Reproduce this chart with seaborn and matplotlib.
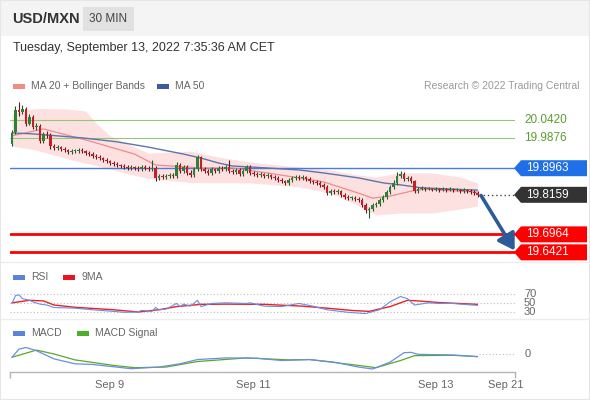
import numpy as np
import pandas as pd
import matplotlib
matplotlib.use("Agg")
import matplotlib.pyplot as plt
import matplotlib.transforms as mtransforms
from matplotlib.patches import Polygon, Rectangle
from matplotlib.lines import Line2D
import seaborn as sns

# ---------------- data (30-min candles) ----------------
opens = [19.970, 20.006, 20.072, 20.066, 20.075, 20.030, 20.051, 20.021, 20.024, 19.979,
         20.000, 19.997, 19.963, 19.957, 19.960, 19.954, 19.951, 19.945, 19.948, 19.948,
         19.951, 19.948, 19.942, 19.939, 19.933, 19.930, 19.927, 19.921, 19.918, 19.912,
         19.909, 19.906, 19.903, 19.900, 19.897, 19.900, 19.897, 19.894, 19.900, 19.897,
         19.894, 19.897, 19.867, 19.873, 19.870, 19.873, 19.876, 19.873, 19.906, 19.888,
         19.900, 19.882, 19.876, 19.894, 19.930, 19.894, 19.888, 19.882, 19.894, 19.888,
         19.897, 19.894, 19.900, 19.888, 19.885, 19.891, 19.879, 19.888, 19.900, 19.882,
         19.879, 19.876, 19.879, 19.873, 19.876, 19.870, 19.867, 19.861, 19.858, 19.852,
         19.861, 19.867, 19.870, 19.867, 19.870, 19.864, 19.858, 19.855, 19.852, 19.846,
         19.840, 19.821, 19.827, 19.824, 19.827, 19.815, 19.809, 19.806, 19.806, 19.803,
         19.800, 19.785, 19.770, 19.773, 19.785, 19.788, 19.800, 19.809, 19.824, 19.840,
         19.852, 19.873, 19.879, 19.864, 19.867, 19.858, 19.827, 19.834, 19.837, 19.834,
         19.834, 19.831, 19.834, 19.831, 19.834, 19.831, 19.834, 19.831, 19.831, 19.827,
         19.831, 19.827, 19.824, 19.821]
closes = [20.003, 20.072, 20.066, 20.075, 20.030, 20.051, 20.021, 20.024, 19.979, 20.000,
          19.997, 19.963, 19.957, 19.960, 19.954, 19.951, 19.945, 19.948, 19.948, 19.951,
          19.948, 19.942, 19.939, 19.933, 19.930, 19.927, 19.921, 19.918, 19.912, 19.909,
          19.906, 19.903, 19.900, 19.897, 19.900, 19.897, 19.894, 19.900, 19.897, 19.894,
          19.897, 19.867, 19.873, 19.870, 19.873, 19.876, 19.873, 19.906, 19.888, 19.900,
          19.882, 19.876, 19.894, 19.930, 19.894, 19.888, 19.882, 19.894, 19.888, 19.897,
          19.894, 19.900, 19.888, 19.885, 19.891, 19.879, 19.888, 19.900, 19.882, 19.879,
          19.876, 19.879, 19.873, 19.876, 19.870, 19.867, 19.861, 19.858, 19.852, 19.861,
          19.867, 19.870, 19.867, 19.870, 19.864, 19.858, 19.855, 19.852, 19.846, 19.840,
          19.821, 19.827, 19.824, 19.827, 19.815, 19.809, 19.806, 19.806, 19.803, 19.800,
          19.785, 19.770, 19.773, 19.785, 19.788, 19.800, 19.809, 19.824, 19.840, 19.852,
          19.873, 19.879, 19.864, 19.867, 19.858, 19.827, 19.834, 19.837, 19.834, 19.834,
          19.831, 19.834, 19.831, 19.834, 19.831, 19.834, 19.831, 19.831, 19.827, 19.831,
          19.827, 19.824, 19.821, 19.816]
highs = [20.012, 20.085, 20.097, 20.088, 20.082, 20.060, 20.058, 20.033, 20.030, 20.006,
         20.009, 20.003, 19.968, 19.966, 19.964, 19.960, 19.955, 19.954, 19.953, 19.957,
         19.956, 19.952, 19.947, 19.944, 19.938, 19.936, 19.931, 19.926, 19.922, 19.918,
         19.914, 19.910, 19.908, 19.906, 19.905, 19.904, 19.903, 19.905, 19.906, 19.902,
         19.920, 19.903, 19.880, 19.879, 19.878, 19.882, 19.881, 19.915, 19.912, 19.906,
         19.905, 19.890, 19.900, 19.937, 19.934, 19.899, 19.893, 19.900, 19.898, 19.903,
         19.902, 19.905, 19.921, 19.894, 19.896, 19.897, 19.894, 19.906, 19.905, 19.887,
         19.884, 19.885, 19.883, 19.881, 19.880, 19.875, 19.872, 19.866, 19.862, 19.866,
         19.872, 19.876, 19.875, 19.876, 19.874, 19.869, 19.862, 19.860, 19.857, 19.851,
         19.845, 19.833, 19.832, 19.833, 19.831, 19.820, 19.814, 19.812, 19.811, 19.808,
         19.805, 19.790, 19.779, 19.790, 19.793, 19.806, 19.814, 19.829, 19.846, 19.860,
         19.884, 19.888, 19.885, 19.873, 19.872, 19.862, 19.839, 19.842, 19.841, 19.839,
         19.838, 19.839, 19.838, 19.839, 19.838, 19.839, 19.838, 19.836, 19.835, 19.836,
         19.835, 19.832, 19.829, 19.826]
lows = [19.962, 20.000, 20.055, 20.060, 20.024, 20.026, 20.015, 20.012, 19.972, 19.973,
        19.988, 19.955, 19.951, 19.952, 19.948, 19.946, 19.940, 19.939, 19.942, 19.943,
        19.942, 19.937, 19.934, 19.928, 19.924, 19.921, 19.916, 19.913, 19.906, 19.903,
        19.900, 19.897, 19.894, 19.891, 19.892, 19.891, 19.889, 19.888, 19.891, 19.888,
        19.889, 19.858, 19.861, 19.864, 19.865, 19.867, 19.868, 19.867, 19.882, 19.883,
        19.876, 19.870, 19.870, 19.888, 19.888, 19.882, 19.877, 19.876, 19.882, 19.883,
        19.888, 19.889, 19.882, 19.879, 19.880, 19.873, 19.874, 19.882, 19.876, 19.873,
        19.870, 19.871, 19.868, 19.867, 19.865, 19.862, 19.856, 19.852, 19.847, 19.846,
        19.855, 19.861, 19.862, 19.861, 19.858, 19.853, 19.849, 19.846, 19.840, 19.834,
        19.814, 19.815, 19.818, 19.819, 19.809, 19.803, 19.800, 19.801, 19.797, 19.794,
        19.778, 19.762, 19.746, 19.766, 19.779, 19.782, 19.795, 19.803, 19.818, 19.834,
        19.846, 19.866, 19.858, 19.859, 19.852, 19.820, 19.822, 19.829, 19.828, 19.829,
        19.826, 19.826, 19.825, 19.826, 19.825, 19.826, 19.825, 19.826, 19.822, 19.822,
        19.821, 19.818, 19.815, 19.810]

ma20_idx = [0, 9, 22, 35, 41, 54, 63, 73, 82, 89, 99, 103, 108, 114, 118, 133]
ma20_val = [19.994, 20.015, 19.979, 19.939, 19.906, 19.897, 19.897, 19.882, 19.867, 19.855,
            19.821, 19.806, 19.812, 19.827, 19.833, 19.824]
ma50_idx = [0, 6, 20, 30, 39, 49, 54, 59, 63, 73, 82, 89, 99, 106, 111, 117, 133]
ma50_val = [20.003, 20.000, 19.988, 19.976, 19.960, 19.939, 19.927, 19.912, 19.903, 19.897,
            19.891, 19.882, 19.867, 19.852, 19.846, 19.837, 19.830]
band_idx = [0, 5, 8, 16, 21, 24, 28, 33, 39, 51, 59, 68, 82, 91, 98, 104, 111, 120, 128, 133]
band_upper = [20.060, 20.075, 20.077, 20.075, 20.069, 20.033, 19.994, 19.970, 19.942, 19.948,
              19.930, 19.915, 19.900, 19.891, 19.877, 19.870, 19.882, 19.882, 19.870, 19.852]
band_lower = [19.963, 19.955, 19.948, 19.924, 19.912, 19.905, 19.894, 19.880, 19.865, 19.853,
              19.852, 19.852, 19.840, 19.821, 19.788, 19.755, 19.761, 19.761, 19.773, 19.782]

rsi_idx = [0, 1, 2, 3, 5, 6, 8, 10, 12, 18, 23, 29, 32, 36, 37, 40, 41, 42, 44, 47,
           48, 49, 51, 53, 54, 57, 61, 67, 68, 72, 77, 82, 86, 90, 96, 101, 105, 108, 111, 113,
           115, 119, 122, 126, 129, 133]
rsi_val = [49, 66.5, 68, 59.5, 56, 52.5, 47.5, 45.5, 40, 38.5, 35, 31.4, 29.3, 30, 33.5, 31.4, 40, 35, 36.3, 49,
           42, 47.5, 43, 56, 42, 49, 50.4, 49, 50.4, 43, 42, 49, 43, 35, 29.3, 26.5, 35, 52.5, 64.4, 59.5,
           45.5, 50.4, 49, 49, 47, 44.7]
rsi9_idx = [0, 5, 9, 12, 18, 29, 36, 42, 47, 54, 61, 72, 83, 90, 97, 102, 108, 113, 116, 122, 133]
rsi9_val = [50.4, 56, 54.6, 45.5, 40.5, 35, 30, 35, 42, 47, 47.5, 47, 43, 38.5, 33.5, 31.4, 42, 56, 54.6, 51, 47]

macd_idx = [0, 2, 4, 7, 12, 18, 23, 34, 42, 48, 53, 61, 70, 77, 85, 92, 99, 103, 108, 112, 114, 116, 126, 133]
macd_val = [-0.003, 0.0045, 0.006, 0.003, -0.0045, -0.009, -0.0096, -0.0135, -0.012, -0.009, -0.0051, -0.0036,
            -0.0039, -0.006, -0.0051, -0.0075, -0.012, -0.0138, -0.0075, 0.0012, 0.0015, -0.0003, -0.0009, -0.0024]
sig_idx = [0, 7, 12, 18, 29, 35, 44, 53, 67, 79, 85, 99, 104, 111, 115, 126, 133]
sig_val = [-0.003, 0.0036, 0.0, -0.0054, -0.0105, -0.0126, -0.012, -0.0069, -0.0036, -0.0054, -0.0051,
           -0.0105, -0.0126, -0.006, -0.0015, -0.0012, -0.0024]

resistances = [20.0420, 19.9876]
pivot = 19.8963
supports = [19.6964, 19.6421]
last_price = 19.8159
target_price = 19.648
rsi_levels = [70, 50, 30]
tick_pos = [28, 69, 121, 141]
tick_labels = ['Sep 9', 'Sep 11', 'Sep 13', 'Sep 21']

# ---------------- styling ----------------
sns.set_theme(style="white")
plt.rcParams['font.family'] = ['Liberation Sans', 'DejaVu Sans']

W, H = 590, 400
fig = plt.figure(figsize=(W / 100, H / 100), dpi=100)
fig.patch.set_facecolor('white')


def fx(x):
    return x / W


def fy(y):
    return 1 - y / H


def px_axes(x0, y0, x1, y1):
    a = fig.add_axes([fx(x0), fy(y1), (x1 - x0) / W, (y1 - y0) / H])
    a.set_facecolor('none')
    for s in a.spines.values():
        s.set_visible(False)
    a.set_xticks([])
    a.set_yticks([])
    return a


def legend_item(x, y, color, label):
    fig.patches.append(Rectangle((fx(x), fy(y + 2.5)), 12 / W, 5 / H, transform=fig.transFigure,
                                 fc=color, ec='none'))
    fig.text(fx(x + 18), fy(y), label, fontsize=7.5, color='#666666', va='center', ha='left')


# header band and frame
fig.patches.append(Rectangle((0, fy(36)), 1, 36 / H, transform=fig.transFigure, fc='#f4f4f4', ec='none', zorder=0))
fig.patches.append(Rectangle((fx(83), fy(31)), 51 / W, 24 / H, transform=fig.transFigure, fc='#e1e1e1', ec='none', zorder=1))
fig.patches.append(Rectangle((0, 0), 1, 1, transform=fig.transFigure, fill=False, ec='#e6e6e6', lw=1.5, zorder=0))
fig.text(fx(12), fy(19), 'USD/MXN', fontsize=10.5, fontweight='bold', color='#333333', va='center', ha='left')
fig.text(fx(108.5), fy(19), '30 MIN', fontsize=8.5, color='#444444', va='center', ha='center')
fig.text(fx(13), fy(48), 'Tuesday, September 13, 2022 7:35:36 AM CET', fontsize=9, color='#333333', va='center')
for ysep in (262, 319):
    fig.lines.append(Line2D([0, 1], [fy(ysep)] * 2, transform=fig.transFigure, color='#ededed', lw=1))

legend_item(13, 86, '#f28b82', 'MA 20 + Bollinger Bands')
legend_item(157, 86, '#3d5a99', 'MA 50')
fig.text(fx(580), fy(86), 'Research \u00a9 2022 Trading Central', fontsize=7.5, color='#9a9a9a', va='center', ha='right')
legend_item(13, 277, '#5b82dc', 'RSI')
legend_item(63, 277, '#e8141e', '9MA')
legend_item(13, 333, '#5b82dc', 'MACD')
legend_item(77, 333, '#4caf28', 'MACD Signal')

XMIN, XMAX = -0.571, 143.71
YLO, YHI = 19.6099, 20.1145

# ---------------- main price panel ----------------
ax = px_axes(10, 96, 515, 263)
n = len(closes)
df = pd.DataFrame({'i': np.arange(n), 'o': opens, 'h': highs, 'l': lows, 'c': closes})
up = df['c'] >= df['o']
body_col = np.where(up, '#2b8237', '#c41f2a')
wick_col = np.where(up, '#27552a', '#5e181c')

ax.fill_between(band_idx, band_lower, band_upper, color='#fde1e1', lw=0, zorder=1)
for r in resistances:
    ax.axhline(r, color='#94c77a', lw=0.8, zorder=1.5)
ax.axhline(pivot, color='#4a7be0', lw=1.0, zorder=1.5)
for s in supports:
    ax.axhline(s, color='#ff0000', lw=2.0, zorder=1.5)
sns.lineplot(x=ma20_idx, y=ma20_val, ax=ax, color='#f08a8a', lw=0.9, zorder=2)
sns.lineplot(x=ma50_idx, y=ma50_val, ax=ax, color='#5a76ad', lw=1.0, zorder=2)
ax.vlines(df['i'], df['l'], df['h'], colors=wick_col, lw=0.8, zorder=3)
body_lo = np.minimum(df['o'], df['c'])
body_h = np.maximum(np.abs(df['c'] - df['o']), 0.0020)
ax.bar(df['i'], body_h, bottom=body_lo, width=0.85, color=body_col, lw=0, zorder=4)
ax.hlines(last_price, n - 0.5, XMAX, colors='#444444', linestyles=(0, (1, 2)), lw=1, zorder=3)
ax.annotate('', xy=(n + 9.6, target_price), xytext=(n, last_price - 0.002),
            arrowprops=dict(arrowstyle='-|>,head_length=0.8,head_width=0.5', color='#2d5b9a', lw=2.6,
                            shrinkA=0, shrinkB=0), annotation_clip=False, zorder=6)
ax.set_xlim(XMIN, XMAX)
ax.set_ylim(YLO, YHI)
ax.set_xlabel('')
ax.set_ylabel('')

per_px = (YHI - YLO) / 167.0
blend = mtransforms.blended_transform_factory(ax.transAxes, ax.transData)


def axfrac(xpix):
    return (xpix - 10) / 505.0


def tag(price, text, fc):
    hh = 8 * per_px
    pts = [(axfrac(514), price), (axfrac(521), price + hh), (axfrac(587), price + hh),
           (axfrac(587), price - hh), (axfrac(521), price - hh)]
    ax.add_patch(Polygon(pts, closed=True, transform=blend, fc=fc, ec='none', clip_on=False, zorder=7))
    ax.text(axfrac(526), price, text, transform=blend, color='white', fontsize=8.5,
            va='center', ha='left', clip_on=False, zorder=8)


for r in resistances:
    ax.text(axfrac(524), r, f'{r:.4f}', transform=blend, color='#5a9e2f', fontsize=8.5,
            va='center', ha='left', clip_on=False)
tag(pivot, f'{pivot:.4f}', '#1f6fe8')
tag(last_price, f'{last_price:.4f}', '#333333')
for s in supports:
    tag(s, f'{s:.4f}', '#ff0000')
ax.set_ylim(YLO, YHI)

# ---------------- RSI panel ----------------
rax = px_axes(10, 288, 515, 317)
for lv in rsi_levels:
    rax.axhline(lv, color='#bdbdbd', ls=(0, (1, 2)), lw=0.8, zorder=1)
sns.lineplot(x=rsi9_idx, y=rsi9_val, ax=rax, color='#e8202a', lw=1.0, zorder=2)
sns.lineplot(x=rsi_idx, y=rsi_val, ax=rax, color='#6a8ee0', lw=0.8, zorder=3)
rax.set_xlim(XMIN, XMAX)
rax.set_ylim(18.9, 83.33)
rax.set_xlabel('')
rax.set_ylabel('')
rblend = mtransforms.blended_transform_factory(rax.transAxes, rax.transData)
for lv in rsi_levels:
    rax.text(axfrac(524), lv, str(lv), transform=rblend, fontsize=8, color='#666666', va='center',
             ha='left', clip_on=False)

# ---------------- MACD panel ----------------
max_ = px_axes(10, 340, 515, 372)
sns.lineplot(x=sig_idx, y=sig_val, ax=max_, color='#58a82a', lw=0.9, zorder=2)
sns.lineplot(x=macd_idx, y=macd_val, ax=max_, color='#6a8ee0', lw=0.9, zorder=3)
max_.hlines(0, n - 0.5, XMAX, colors='#bdbdbd', linestyles=(0, (1, 2)), lw=0.8)
max_.set_xlim(XMIN, XMAX)
max_.set_ylim(-0.01656, 0.01288)
max_.set_xlabel('')
max_.set_ylabel('')
mblend = mtransforms.blended_transform_factory(max_.transAxes, max_.transData)
max_.text(axfrac(525), 0, '0', transform=mblend, fontsize=8, color='#666666', va='center', ha='left',
          clip_on=False)
max_.spines['bottom'].set_visible(True)
max_.spines['bottom'].set_color('#b5b5b5')
max_.spines['bottom'].set_linewidth(1)
max_.set_xticks(tick_pos)
max_.set_xticklabels(tick_labels)
max_.set_xticks([XMIN, XMAX], minor=True)
max_.tick_params(axis='x', which='major', bottom=True, length=0, pad=6, labelsize=8, labelcolor='#666666')
max_.tick_params(axis='x', which='minor', bottom=True, length=4, width=1, color='#b5b5b5', direction='out')

fig.savefig('out.png', dpi=100, facecolor='white')
